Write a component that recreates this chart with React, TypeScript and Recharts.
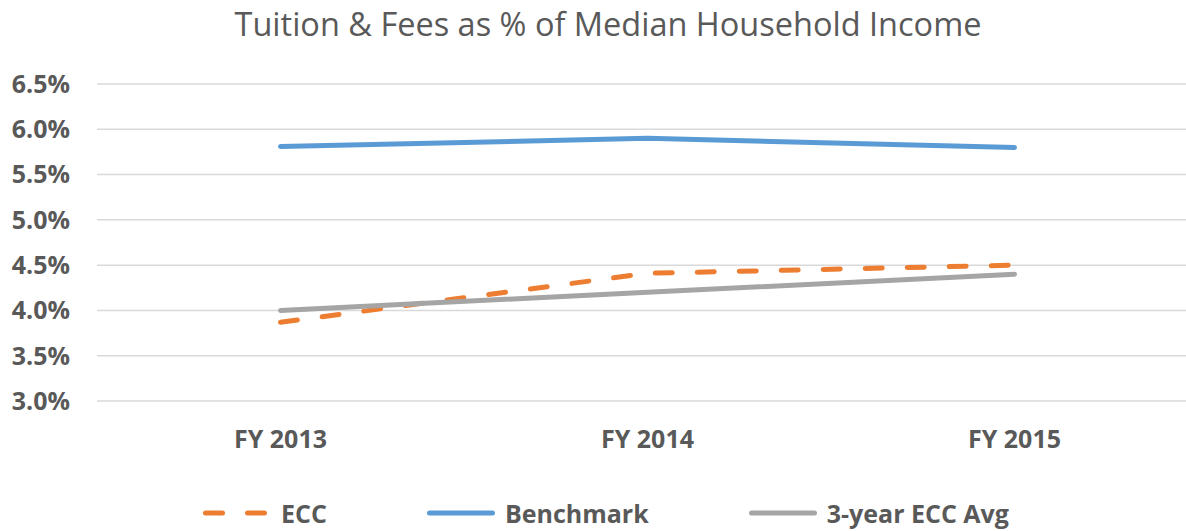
import React from 'react';
import { LineChart, Line, XAxis, YAxis, CartesianGrid, Legend } from 'recharts';

const categories = ['FY 2013', 'FY 2014', 'FY 2015'];
const eccValues = [3.87, 4.41, 4.5];
const benchmarkValues = [5.81, 5.9, 5.8];
const avgValues = [4.0, 4.2, 4.4];
const yTicks = [3.0, 3.5, 4.0, 4.5, 5.0, 5.5, 6.0, 6.5];
const seriesNames = ['ECC', 'Benchmark', '3-year ECC Avg'];

const data = categories.map((c, i) => ({
  name: c,
  ecc: eccValues[i],
  benchmark: benchmarkValues[i],
  avg: avgValues[i],
}));

const TEXT = '#595959';
const FONT = '"Open Sans", "DejaVu Sans", sans-serif';

const LegendContent = (props: any) => {
  const payload = [...(props.payload || [])].sort(
    (a: any, b: any) => seriesNames.indexOf(a.value) - seriesNames.indexOf(b.value)
  );
  return (
    <div
      style={{
        display: 'flex',
        justifyContent: 'center',
        alignItems: 'center',
        gap: 100,
        height: 36,
        fontFamily: FONT,
        fontWeight: 700,
        fontSize: 25,
        color: TEXT,
        paddingLeft: 14,
      }}
    >
      {payload.map((p: any) => (
        <div key={p.value} style={{ display: 'flex', alignItems: 'center' }}>
          <svg width={68} height={10} style={{ marginRight: 10 }}>
            <line
              x1={2.5}
              y1={5}
              x2={65.5}
              y2={5}
              stroke={p.color}
              strokeWidth={5}
              strokeLinecap="round"
              strokeDasharray={p.value === 'ECC' ? '17 25' : undefined}
            />
          </svg>
          <span style={{ lineHeight: '36px' }}>{p.value}</span>
        </div>
      ))}
    </div>
  );
};

export default function App() {
  return (
    <div
      style={{
        position: 'absolute',
        left: 0,
        top: 0,
        width: 1186,
        height: 531,
        overflow: 'hidden',
        background: '#fff',
      }}
    >
      <div
        style={{
          position: 'absolute',
          left: 0,
          top: 1,
          width: 1216,
          textAlign: 'center',
          fontFamily: FONT,
          fontWeight: 400,
          fontSize: 32.5,
          color: TEXT,
          whiteSpace: 'nowrap',
          lineHeight: '46px',
        }}
      >
        Tuition &amp; Fees as % of Median Household Income
      </div>
      <LineChart
        width={1210}
        height={531}
        data={data}
        margin={{ top: 84, right: 12, bottom: 0, left: 0 }}
      >
        <CartesianGrid vertical={false} stroke="#D9D9D9" strokeWidth={1.5} />
        <XAxis
          dataKey="name"
          scale="band"
          axisLine={false}
          tickLine={false}
          tickSize={0}
          tickMargin={29}
          height={94}
          tick={{ fill: TEXT, fontSize: 25, fontWeight: 700, fontFamily: FONT }}
        />
        <YAxis
          domain={[3, 6.5]}
          ticks={yTicks}
          interval={0}
          axisLine={false}
          tickLine={false}
          tickSize={0}
          tickMargin={27}
          width={97}
          tickFormatter={(v: number) => v.toFixed(1) + '%'}
          tick={{ fill: TEXT, fontSize: 25, fontWeight: 700, fontFamily: FONT }}
        />
        <Legend verticalAlign="bottom" height={36} content={<LegendContent />} />
        <Line
          name="ECC"
          dataKey="ecc"
          stroke="#ED7D31"
          strokeWidth={5}
          strokeDasharray="17 25"
          strokeLinecap="round"
          dot={false}
          activeDot={false}
          isAnimationActive={false}
        />
        <Line
          name="Benchmark"
          dataKey="benchmark"
          stroke="#5B9BD5"
          strokeWidth={5}
          strokeLinecap="round"
          dot={false}
          activeDot={false}
          isAnimationActive={false}
        />
        <Line
          name="3-year ECC Avg"
          dataKey="avg"
          stroke="#A5A5A5"
          strokeWidth={5}
          strokeLinecap="round"
          dot={false}
          activeDot={false}
          isAnimationActive={false}
        />
      </LineChart>
    </div>
  );
}
